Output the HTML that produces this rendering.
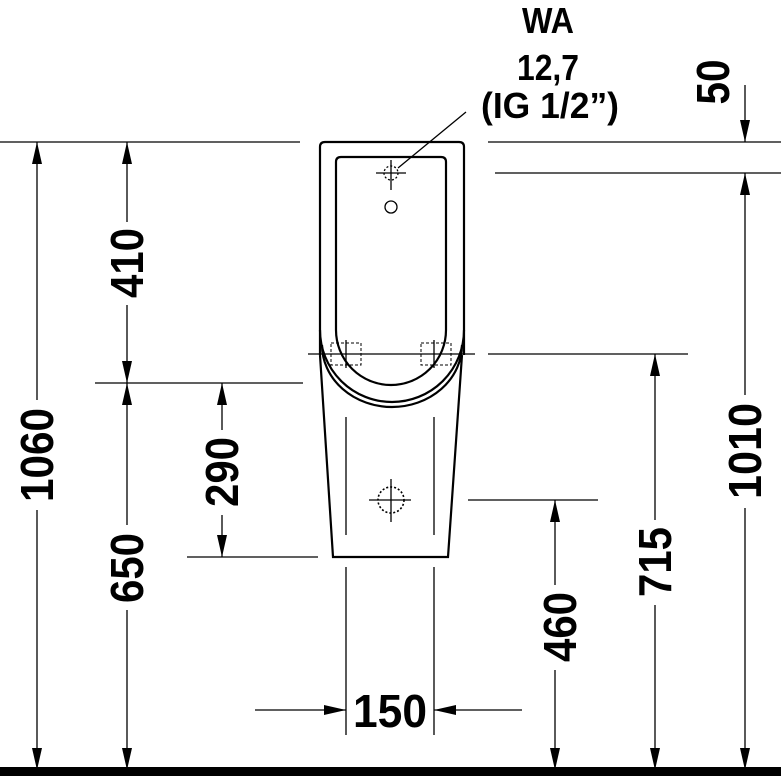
<!DOCTYPE html>
<html><head><meta charset="utf-8"><style>
html,body{margin:0;padding:0;background:#fff;}
svg{display:block;}
text{font-family:"Liberation Sans Narrow","Liberation Sans",sans-serif;font-weight:bold;fill:#000;}
</style></head><body>
<svg width="781" height="776" viewBox="0 0 781 776" xmlns="http://www.w3.org/2000/svg">
<defs>
<marker id="a" viewBox="0 0 22 10" refX="22" refY="5" markerWidth="22" markerHeight="10" markerUnits="userSpaceOnUse" orient="auto"><path d="M0,0 L22,5 L0,10 Z" fill="#000"/></marker>
</defs>
<g stroke="#000" stroke-width="1.3" fill="none">
<!-- extension lines -->
<line x1="0" y1="142" x2="300" y2="142"/>
<line x1="488" y1="142" x2="781" y2="142"/>
<line x1="495" y1="173" x2="781" y2="173"/>
<line x1="95" y1="383" x2="303" y2="383"/>
<line x1="187" y1="557" x2="318" y2="557"/>
<line x1="308" y1="354" x2="475" y2="354"/>
<line x1="488" y1="354" x2="688" y2="354"/>
<line x1="468" y1="500" x2="598" y2="500"/>
<line x1="346" y1="567" x2="346" y2="735"/>
<line x1="434" y1="567" x2="434" y2="735"/>
<!-- dims -->
<line x1="37" y1="400" x2="37" y2="142" marker-end="url(#a)"/>
<line x1="37" y1="510" x2="37" y2="770" marker-end="url(#a)"/>
<line x1="127" y1="222" x2="127" y2="142" marker-end="url(#a)"/>
<line x1="127" y1="305" x2="127" y2="383" marker-end="url(#a)"/>
<line x1="127" y1="525" x2="127" y2="383" marker-end="url(#a)"/>
<line x1="127" y1="610" x2="127" y2="770" marker-end="url(#a)"/>
<line x1="222" y1="430" x2="222" y2="383" marker-end="url(#a)"/>
<line x1="222" y1="515" x2="222" y2="557" marker-end="url(#a)"/>
<line x1="655" y1="520" x2="655" y2="354" marker-end="url(#a)"/>
<line x1="655" y1="605" x2="655" y2="770" marker-end="url(#a)"/>
<line x1="555" y1="585" x2="555" y2="500" marker-end="url(#a)"/>
<line x1="555" y1="670" x2="555" y2="770" marker-end="url(#a)"/>
<line x1="745" y1="395" x2="745" y2="173" marker-end="url(#a)"/>
<line x1="745" y1="508" x2="745" y2="770" marker-end="url(#a)"/>
<line x1="745" y1="85" x2="745" y2="142" marker-end="url(#a)"/>
<line x1="255" y1="710" x2="346" y2="710" marker-end="url(#a)"/>
<line x1="522" y1="710" x2="434" y2="710" marker-end="url(#a)"/>
<line x1="466" y1="112" x2="398" y2="168"/>
</g>
<!-- urinal -->
<g stroke="#000" fill="none" stroke-width="2.2">
<path d="M320,355 L320,147 Q320,142 325,142 L459,142 Q464,142 464,147 L464,355"/>
<path d="M320,355 L333,557 L448,557 L462,355"/>
<path d="M336,330 L336,162 Q336,157 341,157 L441,157 Q446,157 446,162 L446,330 A55,55 0 0 1 336,330 Z"/>
<path d="M320,330 A72,72 0 0 0 464,330"/>
<path d="M322,345 A70,62 0 0 0 462,345"/>
</g>
<g stroke="#000" stroke-width="1.3" fill="none">
<line x1="346" y1="417" x2="346" y2="535"/>
<line x1="434" y1="417" x2="434" y2="535"/>
<circle cx="391" cy="207" r="6"/>
<circle cx="391" cy="173" r="7" stroke-dasharray="2,2"/>
<line x1="376" y1="173" x2="406" y2="173"/><line x1="391" y1="160" x2="391" y2="190"/>
<circle cx="391" cy="500" r="13" stroke-dasharray="2,2" stroke-width="1.6"/>
<line x1="369" y1="500" x2="411" y2="500"/><line x1="391" y1="479" x2="391" y2="522"/>
<rect x="331" y="343" width="30" height="22" stroke-dasharray="3,2" stroke-width="1"/>
<rect x="421" y="343" width="30" height="22" stroke-dasharray="3,2" stroke-width="1"/>
<line x1="346" y1="340" x2="346" y2="368"/><line x1="434" y1="340" x2="434" y2="368"/>
</g>
<rect x="0" y="767" width="781" height="9" fill="#000"/>
<!-- texts -->
<g font-size="46" text-anchor="middle" dominant-baseline="central">
<text transform="translate(37,455) rotate(-90)" textLength="94" lengthAdjust="spacingAndGlyphs">1060</text>
<text transform="translate(127,263) rotate(-90)" textLength="70" lengthAdjust="spacingAndGlyphs">410</text>
<text transform="translate(127,568) rotate(-90)" textLength="70" lengthAdjust="spacingAndGlyphs">650</text>
<text transform="translate(222,472) rotate(-90)" textLength="70" lengthAdjust="spacingAndGlyphs">290</text>
<text transform="translate(560,627) rotate(-90)" textLength="70" lengthAdjust="spacingAndGlyphs">460</text>
<text transform="translate(655,562) rotate(-90)" textLength="70" lengthAdjust="spacingAndGlyphs">715</text>
<text transform="translate(745,451) rotate(-90)" textLength="96" lengthAdjust="spacingAndGlyphs">1010</text>
<text transform="translate(713,82) rotate(-90)" textLength="45" lengthAdjust="spacingAndGlyphs">50</text>
<text x="390" y="711" textLength="74" lengthAdjust="spacingAndGlyphs">150</text>
</g>
<g font-size="36" text-anchor="middle">
<text x="548" y="33" textLength="52" lengthAdjust="spacingAndGlyphs">WA</text>
<text x="548" y="80" textLength="62" lengthAdjust="spacingAndGlyphs">12,7</text>
<text x="550" y="118" textLength="138" lengthAdjust="spacingAndGlyphs">(IG 1/2”)</text>
</g>
</svg>
</body></html>
